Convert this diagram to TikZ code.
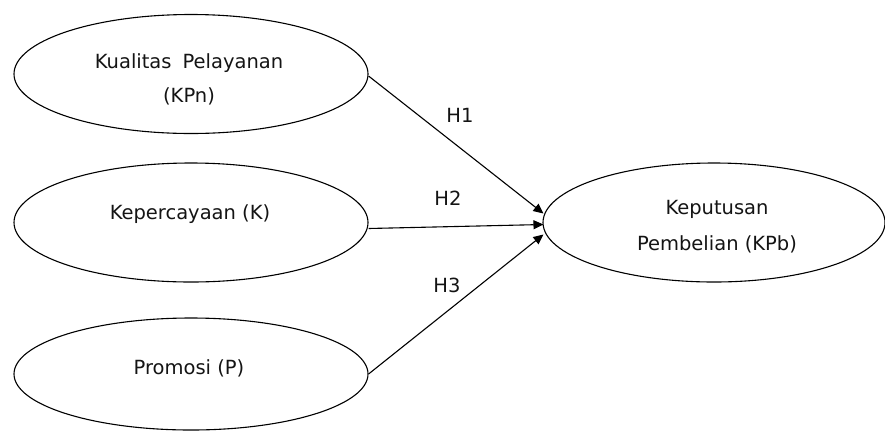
\documentclass[tikz,border=0pt]{standalone}
\usepackage{fontspec}
\setmainfont{DejaVu Sans}
\usetikzlibrary{arrows.meta,shapes.geometric}
\begin{document}
\begin{tikzpicture}[x=1pt,y=-1pt,
  var/.style={draw,line width=1.1pt,ellipse,inner sep=0pt,minimum width=354pt,minimum height=119pt},
  lbl/.style={font=\fontsize{19.5}{24}\selectfont,align=center,text=black!92},
  arr/.style={draw,line width=1.1pt,-{Triangle[length=10pt,width=9pt]}}]
\useasboundingbox (0,0) rectangle (885,432);
\node[var] (e1) at (191,74) {};
\node[var] (e2) at (191,222.5) {};
\node[var,minimum height=112pt] (e3) at (191,374) {};
\node[var,minimum width=342pt] (e4) at (714,222.5) {};
\node[lbl] (kpn) at (189,79) {Kualitas\hspace{11pt}Pelayanan\\[10pt](KPn)};
\node[lbl] (k) at (190,214) {Kepercayaan (K)};
\node[lbl] (p) at (189,368) {Promosi (P)};
\node[lbl] (kpb) at (717,227) {Keputusan\\[12pt]Pembelian (KPb)};
\coordinate (t1) at ([shift={(1,-9)}]e4.west);
\coordinate (t2) at ([shift={(1,2)}]e4.west);
\coordinate (t3) at ([shift={(1,12)}]e4.west);
\draw[arr] ([yshift=-2pt]e1.east) -- (t1);
\draw[arr] ([yshift=-6pt]e2.east) -- (t2);
\draw[arr] (e3.east) -- (t3);
\node[lbl] (h1) at (460,115) {H1};
\node[lbl] (h2) at (448,198) {H2};
\node[lbl] (h3) at (447,285) {H3};
\end{tikzpicture}
\end{document}
